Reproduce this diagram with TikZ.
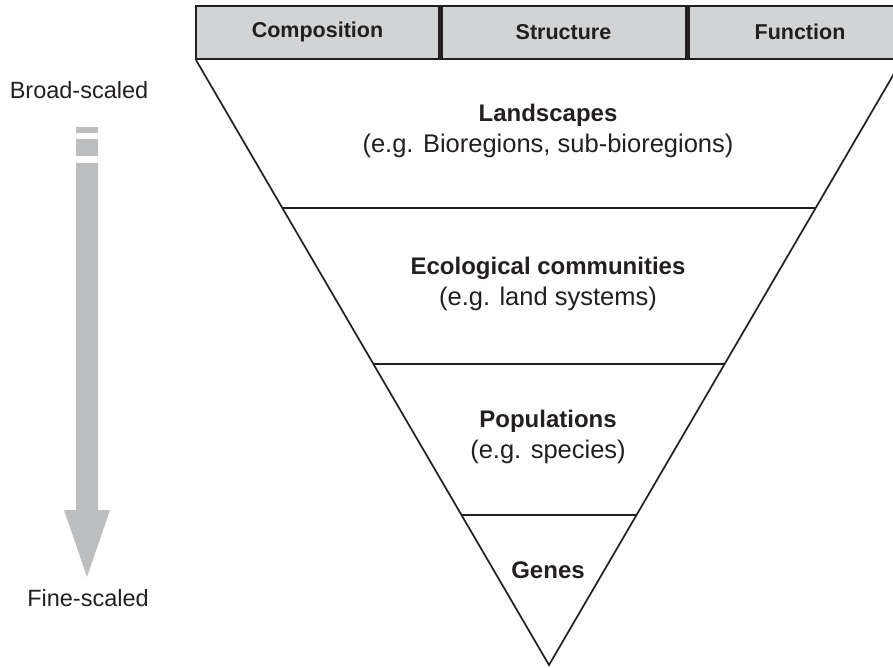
\documentclass[tikz,border=0pt]{standalone}
\usepackage{fontspec}
\setmainfont{Liberation Sans}
\usetikzlibrary{calc}
\definecolor{ink}{HTML}{231F20}
\definecolor{headfill}{HTML}{D1D3D4}
\definecolor{arrowgray}{HTML}{BCBEC0}
\newcommand{\leveltitle}[1]{{\fontsize{24}{31}\selectfont\bfseries #1}}
\begin{document}
\begin{tikzpicture}[x=1pt,y=-1pt,
  headbox/.style={draw=ink,line width=2.2pt,fill=headfill},
  headtext/.style={text=ink,font=\fontsize{21.5}{24}\selectfont\bfseries},
  level/.style={text=ink,align=center,font=\fontsize{25.5}{31}\selectfont},
  side/.style={text=ink,font=\fontsize{23.5}{26}\selectfont},
  edge/.style={draw=ink,line width=1.7pt}]
\useasboundingbox (0,0) rectangle (893,668);

% header row
\draw[headbox] (196,6) rectangle (439,59);
\draw[headbox] (441.5,6) rectangle (686,59);
\draw[headbox] (688.5,6) rectangle (912,59);
\node[headtext] (comp) at (317.5,32) {Composition};
\node[headtext] (struc) at (563.5,32) {Structure};
\node[headtext] (func) at (800,32) {Function};

% inverted triangle
\coordinate (L) at (196,60);
\coordinate (R) at (902,60);
\coordinate (A) at (549,665);
\draw[edge,line join=miter] (L) -- (A) -- (R);

% level dividers
\foreach \n/\yy in {a/208,b/364,c/515}{
  \coordinate (l\n) at ($(L)!{(\yy-60)/605}!(A)$);
  \coordinate (r\n) at ($(R)!{(\yy-60)/605}!(A)$);
  \draw[edge] (l\n) -- (r\n);
}

% level labels
\node[level] (land) at (548,131) {\leveltitle{Landscapes}\\(e.g. Bioregions, sub-bioregions)};
\node[level] (eco) at (548,284) {\leveltitle{Ecological communities}\\(e.g. land systems)};
\node[level] (pop) at (548,437) {\leveltitle{Populations}\\(e.g. species)};
\node[level] (gen) at (548,570) {\leveltitle{Genes}};

% scale arrow
\node[side] (broad) at (79,90) {Broad-scaled};
\node[side] (fine) at (88,598) {Fine-scaled};
\fill[arrowgray] (76,127) rectangle (98,133);
\fill[arrowgray] (76,139) rectangle (98,156);
\fill[arrowgray] (76,163) -- (98,163) -- (98,510) -- (110,510) -- (87,577) -- (64,510) -- (76,510) -- cycle;
\end{tikzpicture}
\end{document}
